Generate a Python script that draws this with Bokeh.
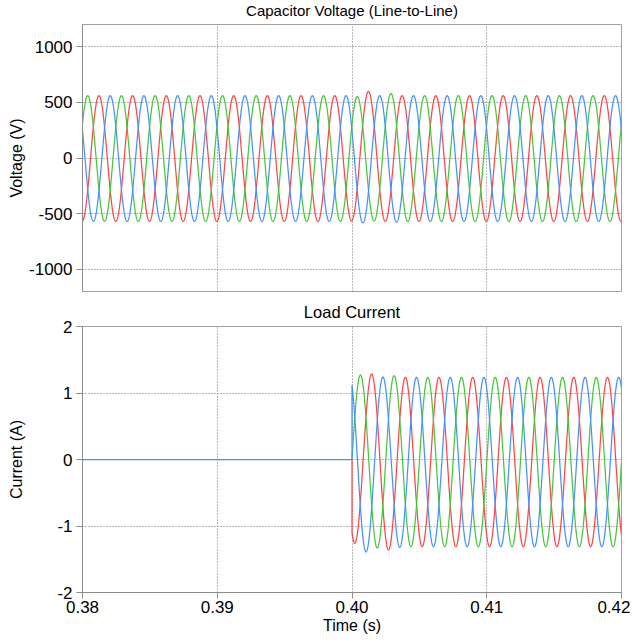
import numpy as np
from bokeh.plotting import figure
from bokeh.layouts import column
from bokeh.models import Range1d, FixedTicker, PrintfTickFormatter
from bokeh.embed import file_html
from bokeh.resources import INLINE

# ---------------- data ----------------
FREQ_HZ = 400.0                 # fundamental frequency of all waveforms
HALF_PERIOD = 0.5 / FREQ_HZ
T_START, T_END = 0.38, 0.42
SWITCH_TIME = 0.40              # load connected at this instant

time_ticks = [0.38, 0.39, 0.40, 0.41, 0.42]
voltage_ticks = [-1000, -500, 0, 500, 1000]
current_ticks = [-2, -1, 0, 1, 2]

# Capacitor line-to-line voltage: time of first extreme, then successive
# half-cycle extremes (V)
v_red_t0 = 0.37997
v_red_ext = [-570, 560, -570, 560, -570, 560, -570, 560, -570, 560,
             -570, 560, -570, 560, -570, 560, -565, 598, -570, 560,
             -570, 560, -570, 560, -570, 560, -570, 560, -570, 560,
             -570, 560, -570, 560, -570]
v_green_t0 = 0.37914
v_green_ext = [-570, 560, -570, 560, -570, 560, -570, 560, -570, 560,
               -570, 560, -570, 560, -570, 560, -570, 552, -565, 580,
               -570, 560, -570, 560, -570, 560, -570, 560, -570, 560,
               -570, 560, -570, 560, -570]
v_blue_t0 = 0.37956
v_blue_ext = [560, -570, 560, -570, 560, -570, 560, -570, 560, -570,
              560, -570, 560, -570, 560, -570, 560, -583, 560, -576,
              560, -570, 560, -570, 560, -570, 560, -570, 560, -570,
              560, -570, 560, -570, 560]

# Load current (A): zero before SWITCH_TIME, then half-cycle extremes
i_red_t0 = 0.398958
i_red_ext = [1.20, -1.26, 1.285, -1.36, 1.235, -1.31, 1.235, -1.31, 1.235, -1.31,
             1.235, -1.31, 1.235, -1.31, 1.235, -1.31, 1.235, -1.31, 1.235]
i_green_t0 = 0.399375
i_green_ext = [-1.27, 1.27, -1.33, 1.26, -1.31, 1.235, -1.31, 1.235, -1.31, 1.235,
               -1.31, 1.235, -1.31, 1.235, -1.31, 1.235, -1.31, 1.235]
i_blue_t0 = 0.399792
i_blue_ext = [1.30, -1.39, 1.24, -1.32, 1.235, -1.31, 1.235, -1.31, 1.235, -1.31,
              1.235, -1.31, 1.235, -1.31, 1.235, -1.31, 1.235, -1.31]

# ---------------- styles ----------------
RED, GREEN, BLUE = "#FF4545", "#45C83A", "#4592FF"
FONT = "Liberation Sans"
LW = 1.25
FRAME_W = 539
TICK_FS = "17px"


def waveform(t, t0, extremes):
    """Smooth half-cosine arcs joining successive extremes."""
    ext = np.asarray(extremes, dtype=float)
    pos = (t - t0) / HALF_PERIOD
    k = np.clip(np.floor(pos).astype(int), 0, len(ext) - 2)
    frac = np.clip(pos - k, 0.0, 1.0)
    a, b = ext[k], ext[k + 1]
    return (a + b) / 2 + (a - b) / 2 * np.cos(np.pi * frac)


def style(p, yticks, label_standoff):
    p.title.align = "center"
    p.title.text_font = FONT
    p.title.text_font_size = "15px"
    p.title.text_font_style = "normal"
    p.title.text_color = "#000000"
    p.title.standoff = 11
    p.outline_line_color = "#a0a0a0"
    p.outline_line_width = 1
    p.background_fill_color = "white"
    p.border_fill_color = "white"
    for ax in p.yaxis:
        ax.ticker = FixedTicker(ticks=yticks)
        ax.formatter = PrintfTickFormatter(format="%d")
        ax.minor_tick_line_color = None
        ax.major_tick_in = 0
        ax.major_tick_out = 6
        ax.axis_line_color = "#8c8c8c"
        ax.major_tick_line_color = "#8c8c8c"
        ax.major_label_text_font = FONT
        ax.major_label_text_font_size = TICK_FS
        ax.major_label_text_color = "#000000"
        ax.major_label_standoff = 4
        ax.axis_label_text_font = FONT
        ax.axis_label_text_font_size = "16px"
        ax.axis_label_text_font_style = "normal"
        ax.axis_label_text_color = "#000000"
        ax.axis_label_standoff = label_standoff
    p.xgrid.ticker = FixedTicker(ticks=time_ticks)
    p.ygrid.ticker = FixedTicker(ticks=yticks)
    for g in (p.xgrid, p.ygrid):
        g.grid_line_color = "#6e6e6e"
        g.grid_line_dash = "1 2"
        g.grid_line_width = 1


# ---------------- voltage plot ----------------
t_v = np.linspace(T_START, T_END, 4001)
p1 = figure(frame_width=FRAME_W, frame_height=267, output_backend="svg",
            toolbar_location=None,
            x_range=Range1d(T_START, T_END), y_range=Range1d(-1200, 1200),
            title="Capacitor Voltage (Line-to-Line)",
            min_border_left=74, min_border_right=9, min_border_top=0,
            min_border_bottom=4)
style(p1, voltage_ticks, 1)
p1.xaxis.visible = False
p1.yaxis.axis_label = "Voltage (V)"
p1.line(t_v, waveform(t_v, v_red_t0, v_red_ext), line_color=RED, line_width=LW)
p1.line(t_v, waveform(t_v, v_green_t0, v_green_ext), line_color=GREEN, line_width=LW)
p1.line(t_v, waveform(t_v, v_blue_t0, v_blue_ext), line_color=BLUE, line_width=LW)

# ---------------- current plot ----------------
t_on = np.linspace(SWITCH_TIME, T_END, 2001)


def current(t0, ext, from_start):
    """Zero before the switching instant, then the measured waveform.
    The pre-switch zero segment is identical for all phases; it is drawn
    with the phase that lies on top."""
    if from_start:
        t = np.concatenate([[T_START, SWITCH_TIME], t_on])
        y = np.concatenate([[0.0, 0.0], waveform(t_on, t0, ext)])
    else:
        t = np.concatenate([[SWITCH_TIME], t_on])
        y = np.concatenate([[0.0], waveform(t_on, t0, ext)])
    return t, y


p2 = figure(frame_width=FRAME_W, frame_height=266, output_backend="svg",
            toolbar_location=None,
            x_range=p1.x_range, y_range=Range1d(-2, 2),
            title="Load Current",
            min_border_left=74, min_border_right=9, min_border_top=0,
            min_border_bottom=2)
style(p2, current_ticks, 29)
p2.title.text_font_size = "16.5px"
p2.yaxis.axis_label = "Current (A)"
xa = p2.xaxis[0]
xa.ticker = FixedTicker(ticks=time_ticks)
xa.formatter = PrintfTickFormatter(format="%.2f")
xa.minor_tick_line_color = None
xa.major_tick_in = 0
xa.major_tick_out = 6
xa.axis_line_color = "#8c8c8c"
xa.major_tick_line_color = "#8c8c8c"
xa.major_label_text_font = FONT
xa.major_label_text_font_size = TICK_FS
xa.major_label_text_color = "#000000"
xa.major_label_standoff = 2
xa.axis_label = "Time (s)"
xa.axis_label_text_font = FONT
xa.axis_label_text_font_size = "16px"
xa.axis_label_text_font_style = "normal"
xa.axis_label_text_color = "#000000"
xa.axis_label_standoff = 1

tr, yr = current(i_red_t0, i_red_ext, False)
tg, yg = current(i_green_t0, i_green_ext, False)
tb, yb = current(i_blue_t0, i_blue_ext, True)
p2.line(tr, yr, line_color=RED, line_width=LW)
p2.line(tg, yg, line_color=GREEN, line_width=LW)
p2.line(tb, yb, line_color=BLUE, line_width=LW)

layout = column(p1, p2, spacing=0,
                styles={"position": "absolute", "left": "5px", "top": "-6px"})
open("out.html", "w").write(file_html(layout, INLINE))
